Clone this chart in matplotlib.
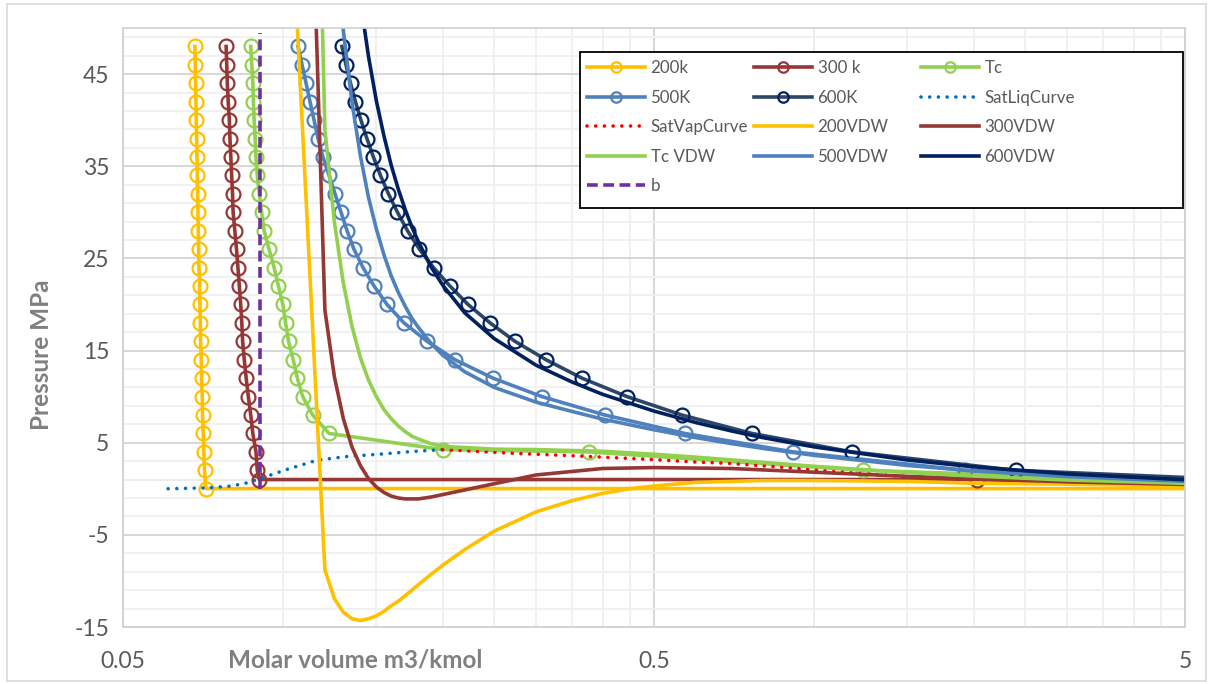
import matplotlib
matplotlib.use("Agg")
import matplotlib.pyplot as plt
from matplotlib.patches import Rectangle
from matplotlib.ticker import FixedLocator, NullFormatter
import numpy as np

plt.rcParams["font.family"] = ["Lato", "DejaVu Sans"]
plt.rcParams["axes.unicode_minus"] = False

# ---- data (v in m3/kmol, P in MPa) ----
P_LIQ = [48, 46, 44, 42, 40, 38, 36, 34, 32, 30, 28, 26,
         24, 22, 20, 18, 16, 14, 12, 10, 8, 6, 4, 2]

v_200k = [0.0683, 0.0684, 0.0685, 0.0686, 0.0687, 0.0688, 0.0689, 0.0690,
          0.0691, 0.0692, 0.0693, 0.0694, 0.0695, 0.0697, 0.0698, 0.0699,
          0.0700, 0.0702, 0.0703, 0.0705, 0.0706, 0.0708, 0.0710, 0.0712,
          0.0716, 83.0]
p_200k = P_LIQ + [0.02, 0.02]

v_300k = [0.0782, 0.0784, 0.0786, 0.0789, 0.0793, 0.0795, 0.0798, 0.0801,
          0.0804, 0.0806, 0.0812, 0.0818, 0.0823, 0.0828, 0.0833, 0.0837,
          0.0840, 0.0846, 0.0853, 0.0861, 0.0870, 0.0878, 0.0890, 0.0895,
          0.0903, 2.03, 10.0]
p_300k = P_LIQ + [1.0, 1.0, 0.25]

v_tc = [0.0870, 0.0874, 0.0878, 0.0880, 0.0883, 0.0887, 0.0890, 0.0895,
        0.0903, 0.0912, 0.0922, 0.0942, 0.0963, 0.0981, 0.1000, 0.1012,
        0.1025, 0.1046, 0.1065, 0.1090, 0.1138, 0.1222,
        0.200, 0.377, 1.24, 10.0]
p_tc = P_LIQ[:-2] + [4.25, 4.0, 2.0, 0.3]

v_500k = [0.1068, 0.1087, 0.1106, 0.1125, 0.1145, 0.1165, 0.1190, 0.1222,
          0.1254, 0.1287, 0.1321, 0.1361, 0.1416, 0.1485, 0.1571, 0.1691,
          0.1869, 0.2110, 0.2488, 0.3076, 0.4043, 0.572, 0.914, 1.93, 10.0]
p_500k = P_LIQ + [0.4]

v_600k = [0.1292, 0.1315, 0.1341, 0.1370, 0.1403, 0.1440, 0.1481, 0.1527,
          0.1581, 0.1644, 0.1717, 0.1808, 0.1922, 0.2064, 0.2232, 0.2456,
          0.2736, 0.3131, 0.3659, 0.4448, 0.5645, 0.765, 1.180, 2.40, 10.0]
p_600k = P_LIQ + [0.5]

v_satliq = [0.0608, 0.0723, 0.0800, 0.0850, 0.0906, 0.0960, 0.1018,
            0.116, 0.132, 0.152, 0.176, 0.200]
p_satliq = [0.0, 0.1, 0.3, 0.6, 1.1, 1.6, 2.1, 3.1, 3.5, 3.75, 4.05, 4.25]

v_satvap = [0.200, 0.271, 0.363, 0.485, 0.60, 0.695, 0.864, 1.073,
            1.332, 1.537, 2.03]
p_satvap = [4.25, 3.85, 3.55, 3.2, 2.9, 2.75, 2.35, 1.9, 1.5, 1.3, 1.0]

v_200vdw = [0.1, 0.12, 0.125, 0.13, 0.135, 0.14, 0.145, 0.15, 0.155, 0.16,
            0.165, 0.17, 0.18, 0.19, 0.2, 0.22, 0.25, 0.3, 0.35, 0.4, 0.45,
            0.5, 0.6, 0.7, 0.8, 1.0, 1.5, 2.0, 3.0, 5.0]
p_200vdw = [81.1, -8.8, -11.9, -13.4, -14.1, -14.3, -14.1, -13.8, -13.3,
            -12.7, -12.2, -11.6, -10.4, -9.3, -8.3, -6.6, -4.6, -2.5, -1.3,
            -0.5, 0.0, 0.3, 0.7, 0.8, 0.9, 0.9, 0.8, 0.6, 0.5, 0.3]

v_300vdw = [0.1, 0.12, 0.125, 0.13, 0.135, 0.14, 0.145, 0.15, 0.155, 0.16,
            0.165, 0.17, 0.175, 0.18, 0.19, 0.3, 0.4, 0.5, 0.7, 1.0, 1.5,
            2.0, 3.0, 5.0]
p_300vdw = [168.6, 19.4, 12.2, 7.6, 4.5, 2.5, 1.1, 0.2, -0.4, -0.8, -1.0,
            -1.1, -1.1, -1.1, -0.9, 1.5, 2.2, 2.3, 2.2, 1.8, 1.35, 1.07,
            0.75, 0.47]

v_tcvdw = [0.1, 0.12, 0.125, 0.13, 0.135, 0.14, 0.145, 0.15, 0.155, 0.16,
           0.165, 0.17, 0.175, 0.18, 0.19, 0.2, 0.25, 0.3, 0.4, 0.5, 0.6,
           0.7, 0.8, 1.0, 1.5, 2.0, 3.0, 5.0]
p_tcvdw = [229.7, 39.0, 29.0, 22.3, 17.6, 14.2, 11.8, 10.0, 8.6, 7.6, 6.8,
           6.2, 5.7, 5.4, 4.9, 4.6, 4.3, 4.25, 4.07, 3.75, 3.43, 3.13, 2.87,
           2.44, 1.76, 1.38, 0.95, 0.59]

v_hot_vdw = [0.12, 0.13, 0.135, 0.14, 0.145, 0.15, 0.155, 0.16, 0.165,
             0.17, 0.175, 0.18, 0.19, 0.2, 0.22, 0.25, 0.3, 0.35, 0.4, 0.5,
             0.6, 0.7, 0.8, 1.0, 1.5, 2.0, 3.0, 5.0]
p_500vdw = [75.7, 49.7, 41.9, 36.1, 31.6, 28.2, 25.4, 23.1, 21.3, 19.8,
            18.5, 17.5, 15.8, 14.5, 12.7, 11.0, 9.4, 8.4, 7.56, 6.40, 5.55,
            4.90, 4.39, 3.63, 2.53, 1.94, 1.32, 0.81]
p_600vdw = [103.9, 70.8, 60.6, 52.9, 46.9, 42.1, 38.3, 35.1, 32.5, 30.3,
            28.4, 26.8, 24.1, 22.1, 19.1, 16.3, 13.4, 11.6, 10.25, 8.43,
            7.18, 6.27, 5.56, 4.55, 3.12, 2.38, 1.61, 0.98]

v_b = [0.0905, 0.0905]
p_b = [0.0, 49.5]

YELLOW = "#FFC000"
DRED = "#953735"
GREEN = "#92D050"
BLUE = "#4F81BD"
SLATE = "#2C4766"
NAVY = "#002060"

W, H = 1213, 684
fig = plt.figure(figsize=(W / 100, H / 100), dpi=100)
ax = fig.add_axes([123 / W, 57 / H, 1062 / W, 599 / H])

LW = 2.6
mk = dict(marker="o", markersize=10, markerfacecolor="none",
          markeredgewidth=1.6)

h = {}
h["200k"], = ax.plot(v_200k, p_200k, color=YELLOW, lw=LW,
                     markeredgecolor=YELLOW, **mk)
h["300 k"], = ax.plot(v_300k, p_300k, color=DRED, lw=LW,
                      markeredgecolor=DRED, **mk)
h["Tc"], = ax.plot(v_tc, p_tc, color=GREEN, lw=LW,
                   markeredgecolor=GREEN, **mk)
h["500K"], = ax.plot(v_500k, p_500k, color=BLUE, lw=LW,
                     markeredgecolor=BLUE, **mk)
h["600K"], = ax.plot(v_600k, p_600k, color=SLATE, lw=LW,
                     markeredgecolor=NAVY, **mk)
h["SatLiqCurve"], = ax.plot(v_satliq, p_satliq, color="#0070C0", lw=LW,
                            linestyle=(0, (0.01, 2.4)), dash_capstyle="round")
h["SatVapCurve"], = ax.plot(v_satvap, p_satvap, color="#FF0000", lw=LW,
                            linestyle=(0, (0.01, 2.4)), dash_capstyle="round")
h["200VDW"], = ax.plot(v_200vdw, p_200vdw, color=YELLOW, lw=LW)
h["300VDW"], = ax.plot(v_300vdw, p_300vdw, color=DRED, lw=LW)
h["Tc VDW"], = ax.plot(v_tcvdw, p_tcvdw, color=GREEN, lw=LW)
h["500VDW"], = ax.plot(v_hot_vdw, p_500vdw, color=BLUE, lw=LW)
h["600VDW"], = ax.plot(v_hot_vdw, p_600vdw, color=NAVY, lw=LW)
h["b"], = ax.plot(v_b, p_b, color="#7030A0", lw=LW,
                  linestyle=(0, (3.0, 1.5)))

# axes, log x like Excel (base 10, min 0.05)
ax.set_xscale("log")
ax.set_xlim(0.05, 5)
ax.set_ylim(-15, 50)
ax.xaxis.set_major_locator(FixedLocator([0.05, 0.5, 5]))
ax.xaxis.set_minor_locator(FixedLocator(
    [0.05 * k for k in range(2, 10)] + [0.5 * k for k in range(2, 10)]))
ax.xaxis.set_minor_formatter(NullFormatter())
ax.set_xticklabels(["0.05", "0.5", "5"])
ax.yaxis.set_major_locator(FixedLocator(np.arange(-15, 46, 10)))
ax.yaxis.set_minor_locator(FixedLocator(np.arange(-13, 50, 2)))

ax.grid(which="minor", color="#F0F0F0", lw=1.3)
ax.grid(which="major", color="#D4D4D4", lw=1.3)
ax.set_axisbelow(True)
ax.axvline(1.0, color="#D4D4D4", lw=1.3, zorder=0.5)
ax.axhline(1.0, color="#C8C8C8", lw=1.3, zorder=0.5)
for s in ax.spines.values():
    s.set_color("#D0D0D0")
    s.set_linewidth(1.2)

ax.tick_params(which="both", length=0, labelsize=16.5, colors="#595959")
ax.tick_params(axis="y", pad=10)
ax.tick_params(axis="x", pad=17)

fig.text(355 / W, 1 - 660 / H, "Molar volume m3/kmol", ha="center",
         va="center", fontsize=17.5, fontweight="bold", color="#808080")
fig.text(42 / W, 1 - 355 / H, "Pressure MPa", ha="center", va="center",
         rotation=90, fontsize=17.5, fontweight="bold", color="#808080")

# chart-area border
fig.add_artist(Rectangle((7 / W, 3 / H), 1199 / W, 677 / H,
                         transform=fig.transFigure, fill=False,
                         edgecolor="#D9D9D9", lw=1.2))

# legend box + three columns laid out like Excel
fig.add_artist(Rectangle((580 / W, 1 - 208 / H), 603 / W, 156 / H,
                         transform=fig.transFigure, facecolor="white",
                         edgecolor="black", lw=1.3, zorder=3))
cols = [["200k", "500K", "SatVapCurve", "Tc VDW", "b"],
        ["300 k", "600K", "200VDW", "500VDW"],
        ["Tc", "SatLiqCurve", "300VDW", "600VDW"]]
col_x = [587, 754, 921]
for names, cx in zip(cols, col_x):
    fig.legend([h[n] for n in names], names, loc="upper left",
               bbox_to_anchor=(cx / W, 1 - 60 / H),
               bbox_transform=fig.transFigure, frameon=False,
               fontsize=12.2, labelcolor="#595959", borderpad=0,
               borderaxespad=0, handlelength=3.4, handletextpad=0.35,
               labelspacing=0.8, markerscale=0.75)

fig.savefig("out.png", dpi=100)
plt.close(fig)
